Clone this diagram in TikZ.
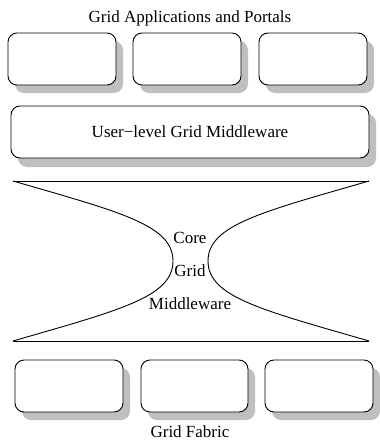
\documentclass[tikz,border=0pt]{standalone}
\usepackage{fontspec}
\setmainfont{Liberation Serif}
\begin{document}
\begin{tikzpicture}[x=1pt,y=-1pt,
  box/.style={draw=black,line width=0.9pt,rounded corners=9pt,fill=white},
  shade/.style={fill=black!25,rounded corners=9pt},
  lbl/.style={font=\fontsize{17}{20}\selectfont,inner sep=0pt},
  hg/.style={draw=black,line width=0.9pt}]
\useasboundingbox (0,0) rectangle (380,442);
% top boxes
\foreach \n/\a/\b in {ta/8/116,tb/133/241,tc/259/367}{
  \fill[shade] (\a+7,41) rectangle (\b+7,93);
  \draw[box] (\a,33) rectangle (\b,85) coordinate (\n);
}
\node[lbl] (title) at (190,18) {Grid Applications and Portals};
% user-level
\fill[shade] (18,114) rectangle (376,167);
\draw[box] (11,106) rectangle (369,158);
\node[lbl] (user) at (190,132) {User−level Grid Middleware};
% hourglass
\coordinate (tl) at (13,181);
\coordinate (tr) at (369,181);
\coordinate (bl) at (13,341);
\coordinate (br) at (369,341);
\draw[hg] (tl) -- (tr);
\draw[hg] (bl) -- (br);
\draw[hg] (tl) .. controls (120,212) and (173,225) .. (173,261)
  .. controls (173,297) and (120,310) .. (bl);
\draw[hg] (tr) .. controls (262,212) and (208,225) .. (208,261)
  .. controls (208,297) and (262,310) .. (br);
\node[lbl] (core) at (190,238) {Core};
\node[lbl] (grid) at (190,271) {Grid};
\node[lbl] (mid) at (190,304) {Middleware};
% bottom boxes
\foreach \n/\a/\b in {ba/15/123,bb/141/248,bc/265/373}{
  \fill[shade] (\a+7,368) rectangle (\b+7,420);
  \draw[box] (\a,360) rectangle (\b,412) coordinate (\n);
}
\node[lbl] (fabric) at (190,432) {Grid Fabric};
\end{tikzpicture}
\end{document}
